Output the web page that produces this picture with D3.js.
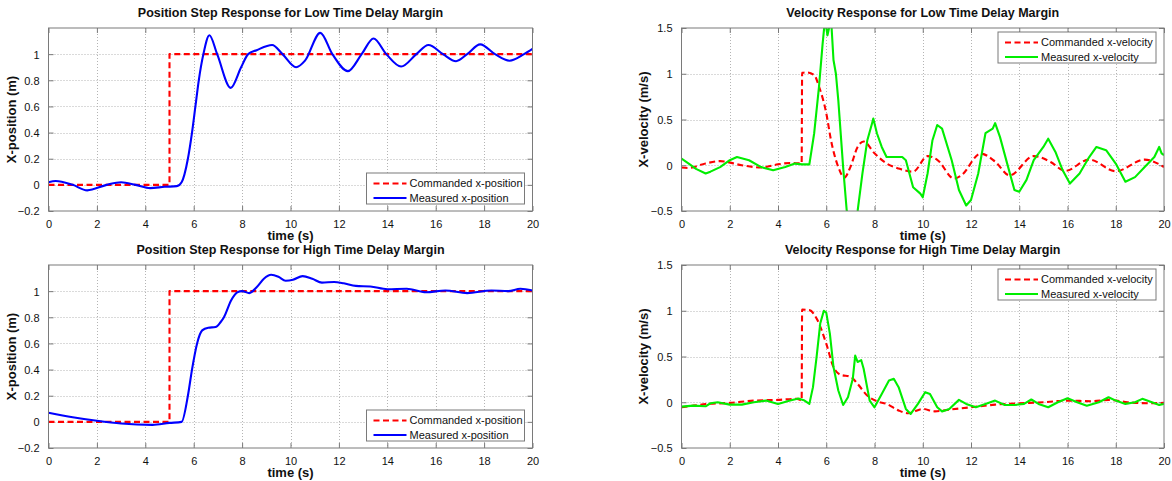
<!DOCTYPE html>
<html>
<head>
<meta charset="utf-8">
<script src="https://cdn.jsdelivr.net/npm/d3@7"></script>
<style>
  html, body { margin: 0; padding: 0; background: #fff; }
  svg text { font-family: "Liberation Sans", Arial, Helvetica, sans-serif; fill: #111; }
</style>
</head>
<body>
<svg id="fig" width="1172" height="481"></svg>
<script>
// ---- tick values ----
const timeTicks = [0, 2, 4, 6, 8, 10, 12, 14, 16, 18, 20];
const posTicks = [-0.2, 0, 0.2, 0.4, 0.6, 0.8, 1];
const velTicks = [-0.5, 0, 0.5, 1, 1.5];

// ---- commanded step in position (same for both margins) ----
const cmdPosTime = [0, 5, 5, 20];
const cmdPos = [0, 0, 1, 1];

// ---- low time-delay margin: measured x-position ----
const posLowTime = [0, 0.3, 1.0, 1.6, 2.4, 3.0, 3.6, 4.2, 4.8, 5.3, 5.5, 5.76, 5.93, 6.07, 6.21, 6.4, 6.65, 6.97, 7.53, 7.96, 8.25, 8.6, 9.24, 9.67, 10.23, 10.6, 11.23, 11.73, 12.37, 12.94, 13.43, 13.96, 14.57, 15.2, 15.7, 16.3, 16.84, 17.3, 17.84, 18.45, 19.05, 19.65, 20];
const posLowMeas = [0.02, 0.03, 0.0, -0.042, 0.0, 0.02, 0.0, -0.025, -0.015, -0.01, 0.02, 0.2, 0.4, 0.6, 0.8, 1.0, 1.145, 1.0, 0.742, 0.9, 1.0, 1.03, 1.07, 1.0, 0.9, 0.95, 1.163, 1.0, 0.87, 1.0, 1.12, 1.0, 0.905, 1.0, 1.07, 1.0, 0.946, 1.0, 1.075, 1.0, 0.95, 1.0, 1.04];

// ---- high time-delay margin: measured x-position ----
const posHighTime = [0, 1, 2, 3, 4.3, 5, 5.5, 5.76, 5.93, 6.14, 6.35, 6.6, 6.9, 7.1, 7.25, 7.55, 7.8, 8.0, 8.3, 8.6, 8.9, 9.2, 9.5, 9.8, 10.1, 10.5, 10.9, 11.3, 11.8, 12.2, 12.7, 13.3, 14, 14.8, 15.6, 16.4, 17.3, 18.3, 19, 19.5, 20];
const posHighMeas = [0.07, 0.035, 0.008, -0.013, -0.023, -0.008, 0.0, 0.2, 0.4, 0.6, 0.7, 0.72, 0.725, 0.76, 0.8, 0.93, 0.99, 1.0, 0.985, 1.03, 1.095, 1.125, 1.11, 1.08, 1.087, 1.115, 1.095, 1.065, 1.07, 1.06, 1.04, 1.036, 1.015, 1.018, 0.992, 1.005, 0.985, 1.005, 1.0, 1.018, 1.005];

// ---- low time-delay margin: velocities ----
const cmdVelLowTime = [0, 0.3, 1, 1.6, 2.5, 3.3, 4, 4.5, 4.98, 5.0, 5.2, 5.5, 5.7, 6, 6.2, 6.5, 6.75, 7.0, 7.3, 7.55, 8, 8.5, 9, 9.6, 10.2, 10.6, 11.3, 11.6, 12.4, 13, 13.6, 14.6, 15.3, 15.9, 16.9, 18, 19.2, 20];
const cmdVelLow = [-0.025, -0.03, 0.02, 0.045, 0.0, -0.025, 0.01, 0.025, 0.02, 1.01, 1.015, 0.985, 0.86, 0.57, 0.27, -0.02, -0.135, -0.02, 0.2, 0.26, 0.13, 0.02, -0.036, -0.07, 0.1, 0.06, -0.146, -0.11, 0.128, 0.04, -0.11, 0.1, 0.036, -0.062, 0.062, -0.065, 0.062, -0.02];

const measVelLowTime = [0, 0.3, 0.6, 1, 1.2, 1.6, 2, 2.3, 2.8, 3.3, 3.8, 4.3, 4.7, 5, 5.3, 5.5, 5.7, 5.85, 5.95, 6.05, 6.2, 6.3, 6.4, 6.5, 6.7, 6.85, 7.05, 7.3, 7.5, 7.7, 7.9, 7.95, 8.1, 8.3, 8.5, 9.15, 9.3, 9.6, 9.9, 10.0, 10.2, 10.4, 10.6, 10.8, 11.2, 11.5, 11.8, 12.0, 12.3, 12.6, 12.9, 13.0, 13.2, 13.5, 13.8, 14, 14.3, 14.6, 15, 15.2, 15.5, 15.8, 16.1, 16.5, 16.9, 17.2, 17.6, 18, 18.4, 18.8, 19.2, 19.6, 19.8, 19.9, 20];
const measVelLow = [0.073, 0.018, -0.04, -0.09, -0.07, -0.02, 0.055, 0.09, 0.055, -0.02, -0.055, -0.02, 0.018, 0.01, 0.01, 0.35, 0.86, 1.33, 1.6, 1.42, 1.6, 1.15, 1.0, 0.71, -0.02, -0.5, -0.85, -0.5, -0.09, 0.27, 0.46, 0.51, 0.35, 0.2, 0.09, 0.09, 0.055, -0.24, -0.31, -0.35, -0.09, 0.27, 0.44, 0.4, 0.055, -0.27, -0.44, -0.38, -0.09, 0.35, 0.4, 0.46, 0.31, 0.018, -0.27, -0.29, -0.16, 0.055, 0.2, 0.29, 0.146, -0.055, -0.2, -0.09, 0.09, 0.2, 0.165, 0.018, -0.18, -0.13, -0.02, 0.09, 0.2, 0.13, 0.11];

// ---- high time-delay margin: velocities ----
const cmdVelHighTime = [0, 0.5, 1, 2, 3, 4, 4.8, 4.98, 5.0, 5.3, 5.6, 6, 6.3, 6.6, 7.0, 7.3, 7.7, 8.1, 8.5, 9.0, 9.4, 10, 10.5, 11, 12, 13, 14, 15, 16, 17, 17.7, 18.5, 19.5, 20];
const cmdVelHigh = [-0.055, -0.037, -0.02, -0.007, 0.018, 0.026, 0.037, 0.02, 1.012, 1.007, 0.916, 0.64, 0.385, 0.3, 0.28, 0.2, 0.073, 0.011, -0.018, -0.09, -0.12, -0.073, -0.1, -0.084, -0.055, -0.026, -0.011, 0, 0.018, 0.011, 0.026, 0, -0.011, -0.007];

const measVelHighTime = [0, 0.5, 1, 1.2, 1.5, 2, 2.5, 3, 3.5, 4, 4.5, 4.85, 5.1, 5.3, 5.45, 5.6, 5.75, 5.9, 6.0, 6.15, 6.3, 6.5, 6.7, 6.9, 7.1, 7.2, 7.3, 7.45, 7.55, 7.8, 8.0, 8.3, 8.6, 8.8, 9.0, 9.3, 9.5, 9.8, 10.1, 10.3, 10.6, 10.8, 11.1, 11.5, 11.8, 12.2, 12.6, 13, 13.4, 13.8, 14.2, 14.5, 14.8, 15.2, 15.6, 16, 16.4, 16.8, 17.3, 17.7, 18, 18.4, 18.8, 19.1, 19.5, 19.8, 20];
const measVelHigh = [-0.048, -0.037, -0.044, -0.011, 0, -0.026, -0.026, 0, 0.018, -0.018, 0.018, 0.04, 0.018, -0.018, 0.165, 0.495, 0.86, 1.0, 0.98, 0.75, 0.385, 0.128, -0.03, 0.055, 0.256, 0.51, 0.44, 0.46, 0.366, 0.018, -0.055, 0.09, 0.238, 0.256, 0.165, -0.073, -0.128, -0.018, 0.11, 0.09, -0.055, -0.1, -0.073, 0.026, -0.018, -0.055, -0.018, 0.018, -0.03, -0.03, -0.018, 0.03, -0.018, -0.055, 0, 0.044, 0, -0.037, 0, 0.055, 0.018, -0.018, 0, 0.037, 0, -0.03, -0.018];

// ---- labels ----
const titles = [
  "Position Step Response for Low Time Delay Margin",
  "Velocity Response for Low Time Delay Margin",
  "Position Step Response for High Time Delay Margin",
  "Velocity Response for High Time Delay Margin"
];
const posLegend = ["Commanded x-position", "Measured x-position"];
const velLegend = ["Commanded x-velocity", "Measured x-velocity"];

// ---- figure layout ----
const svg = d3.select("#fig");
const zip = (t, v) => t.map((d, i) => [d, v[i]]);

const colCmd = "#ff0000", colPos = "#0000ff", colVel = "#00ee00";
const boxCol = "#7a7a7a", gridCol = "#b4b4b4";

const panels = [
  { left: 48.5, right: 532.5, top: 28, bottom: 211, yDom: [-0.2, 1.2], yTicks: posTicks, yFmt: d3.format("~g"),
    ylabel: "X-position (m)", ylabelOff: 33, title: titles[0], legend: posLegend, legendPos: "bottom",
    series: [
      { data: zip(cmdPosTime, cmdPos), color: colCmd, dash: "6,3.5", curve: d3.curveLinear },
      { data: zip(posLowTime, posLowMeas), color: colPos, dash: null, curve: d3.curveMonotoneX }
    ] },
  { left: 681.5, right: 1164, top: 28, bottom: 211, yDom: [-0.5, 1.5], yTicks: velTicks, yFmt: d3.format("~g"),
    ylabel: "X-velocity (m/s)", ylabelOff: 34, title: titles[1], legend: velLegend, legendPos: "top",
    series: [
      { data: zip(cmdVelLowTime, cmdVelLow), color: colCmd, dash: "6,3.5", curve: d3.curveMonotoneX },
      { data: zip(measVelLowTime, measVelLow), color: colVel, dash: null, curve: d3.curveLinear }
    ] },
  { left: 48.5, right: 532.5, top: 265, bottom: 448, yDom: [-0.2, 1.2], yTicks: posTicks, yFmt: d3.format("~g"),
    ylabel: "X-position (m)", ylabelOff: 33, title: titles[2], legend: posLegend, legendPos: "bottom",
    series: [
      { data: zip(cmdPosTime, cmdPos), color: colCmd, dash: "6,3.5", curve: d3.curveLinear },
      { data: zip(posHighTime, posHighMeas), color: colPos, dash: null, curve: d3.curveMonotoneX }
    ] },
  { left: 681.5, right: 1164, top: 265, bottom: 448, yDom: [-0.5, 1.5], yTicks: velTicks, yFmt: d3.format("~g"),
    ylabel: "X-velocity (m/s)", ylabelOff: 34, title: titles[3], legend: velLegend, legendPos: "top",
    series: [
      { data: zip(cmdVelHighTime, cmdVelHigh), color: colCmd, dash: "6,3.5", curve: d3.curveMonotoneX },
      { data: zip(measVelHighTime, measVelHigh), color: colVel, dash: null, curve: d3.curveLinear }
    ] }
];

panels.forEach((p, idx) => {
  const x = d3.scaleLinear().domain([0, 20]).range([p.left, p.right]);
  const y = d3.scaleLinear().domain(p.yDom).range([p.bottom, p.top]);
  const g = svg.append("g");
  const w = p.right - p.left, h = p.bottom - p.top;

  // white plotting area
  g.append("rect").attr("x", p.left).attr("y", p.top).attr("width", w).attr("height", h).attr("fill", "#fff");

  // dotted grid
  const grid = g.append("g").attr("stroke", gridCol).attr("stroke-width", 1).attr("stroke-dasharray", "1,2");
  timeTicks.slice(1, -1).forEach(t => {
    grid.append("line").attr("x1", Math.round(x(t)) + 0.5).attr("x2", Math.round(x(t)) + 0.5)
      .attr("y1", p.top).attr("y2", p.bottom);
  });
  p.yTicks.forEach(v => {
    const yy = Math.round(y(v)) + 0.5;
    if (yy <= p.top + 1 || yy >= p.bottom - 1) return;
    grid.append("line").attr("x1", p.left).attr("x2", p.right).attr("y1", yy).attr("y2", yy);
  });

  // bottom axis with inward ticks
  const xAxis = d3.axisBottom(x).tickValues(timeTicks).tickSizeInner(-5).tickSizeOuter(0).tickPadding(9)
    .tickFormat(d3.format("d"));
  const gx = g.append("g").attr("transform", `translate(0,${p.bottom})`).call(xAxis);
  // left axis with inward ticks
  const yAxis = d3.axisLeft(y).tickValues(p.yTicks).tickSizeInner(-5).tickSizeOuter(0).tickPadding(9)
    .tickFormat(p.yFmt);
  const gy = g.append("g").attr("transform", `translate(${p.left},0)`).call(yAxis);
  // mirrored ticks on top and right
  const gxt = g.append("g").attr("transform", `translate(0,${p.top})`)
    .call(d3.axisTop(x).tickValues(timeTicks).tickSizeInner(-5).tickSizeOuter(0).tickFormat(""));
  const gyr = g.append("g").attr("transform", `translate(${p.right},0)`)
    .call(d3.axisRight(y).tickValues(p.yTicks).tickSizeInner(-5).tickSizeOuter(0).tickFormat(""));
  [gx, gy, gxt, gyr].forEach(a => {
    a.select(".domain").remove();
    a.selectAll("line").attr("stroke", boxCol);
    a.selectAll("text").attr("font-size", 11).attr("fill", "#1a1a1a")
      .style("font-family", '"Liberation Sans", Arial, sans-serif');
  });
  gy.selectAll("text").attr("dy", "0.35em");

  // clipped data lines
  const clipId = "clip" + idx;
  svg.append("clipPath").attr("id", clipId).append("rect")
    .attr("x", p.left).attr("y", p.top).attr("width", w).attr("height", h);
  const lines = g.append("g").attr("clip-path", `url(#${clipId})`);
  p.series.forEach(s => {
    const line = d3.line().x(d => x(d[0])).y(d => y(d[1])).curve(s.curve);
    lines.append("path").datum(s.data).attr("d", line)
      .attr("fill", "none").attr("stroke", s.color).attr("stroke-width", 2.1)
      .attr("stroke-linejoin", "round")
      .attr("stroke-dasharray", s.dash);
  });

  // axes box
  g.append("rect").attr("x", p.left).attr("y", p.top).attr("width", w).attr("height", h)
    .attr("fill", "none").attr("stroke", boxCol).attr("stroke-width", 1);

  // title and axis labels
  g.append("text").attr("x", (p.left + p.right) / 2).attr("y", p.top - 11)
    .attr("text-anchor", "middle").attr("font-weight", "bold").attr("font-size", 12.5)
    .text(p.title);
  g.append("text").attr("x", (p.left + p.right) / 2).attr("y", p.bottom + 28.5)
    .attr("text-anchor", "middle").attr("font-weight", "bold").attr("font-size", 13)
    .text("time (s)");
  g.append("text").attr("transform", `translate(${p.left - p.ylabelOff},${(p.top + p.bottom) / 2}) rotate(-90)`)
    .attr("text-anchor", "middle").attr("font-weight", "bold").attr("font-size", 13)
    .text(p.ylabel);

  // legend
  const lw = 158, lh = 31;
  const lx = p.right - 8 - lw;
  const ly = p.legendPos === "top" ? p.top + 4 : p.bottom - 7 - lh;
  const lg = g.append("g");
  lg.append("rect").attr("x", lx).attr("y", ly).attr("width", lw).attr("height", lh)
    .attr("fill", "#fff").attr("stroke", boxCol).attr("stroke-width", 1);
  p.series.forEach((s, i) => {
    const cy = ly + 10.5 + i * 14.5;
    lg.append("line").attr("x1", lx + 7).attr("x2", lx + 40).attr("y1", cy).attr("y2", cy)
      .attr("stroke", s.color).attr("stroke-width", 2.1).attr("stroke-dasharray", s.dash);
    lg.append("text").attr("x", lx + 43).attr("y", cy).attr("dy", "0.35em")
      .attr("font-size", 11).text(p.legend[i]);
  });
});
</script>
</body>
</html>
